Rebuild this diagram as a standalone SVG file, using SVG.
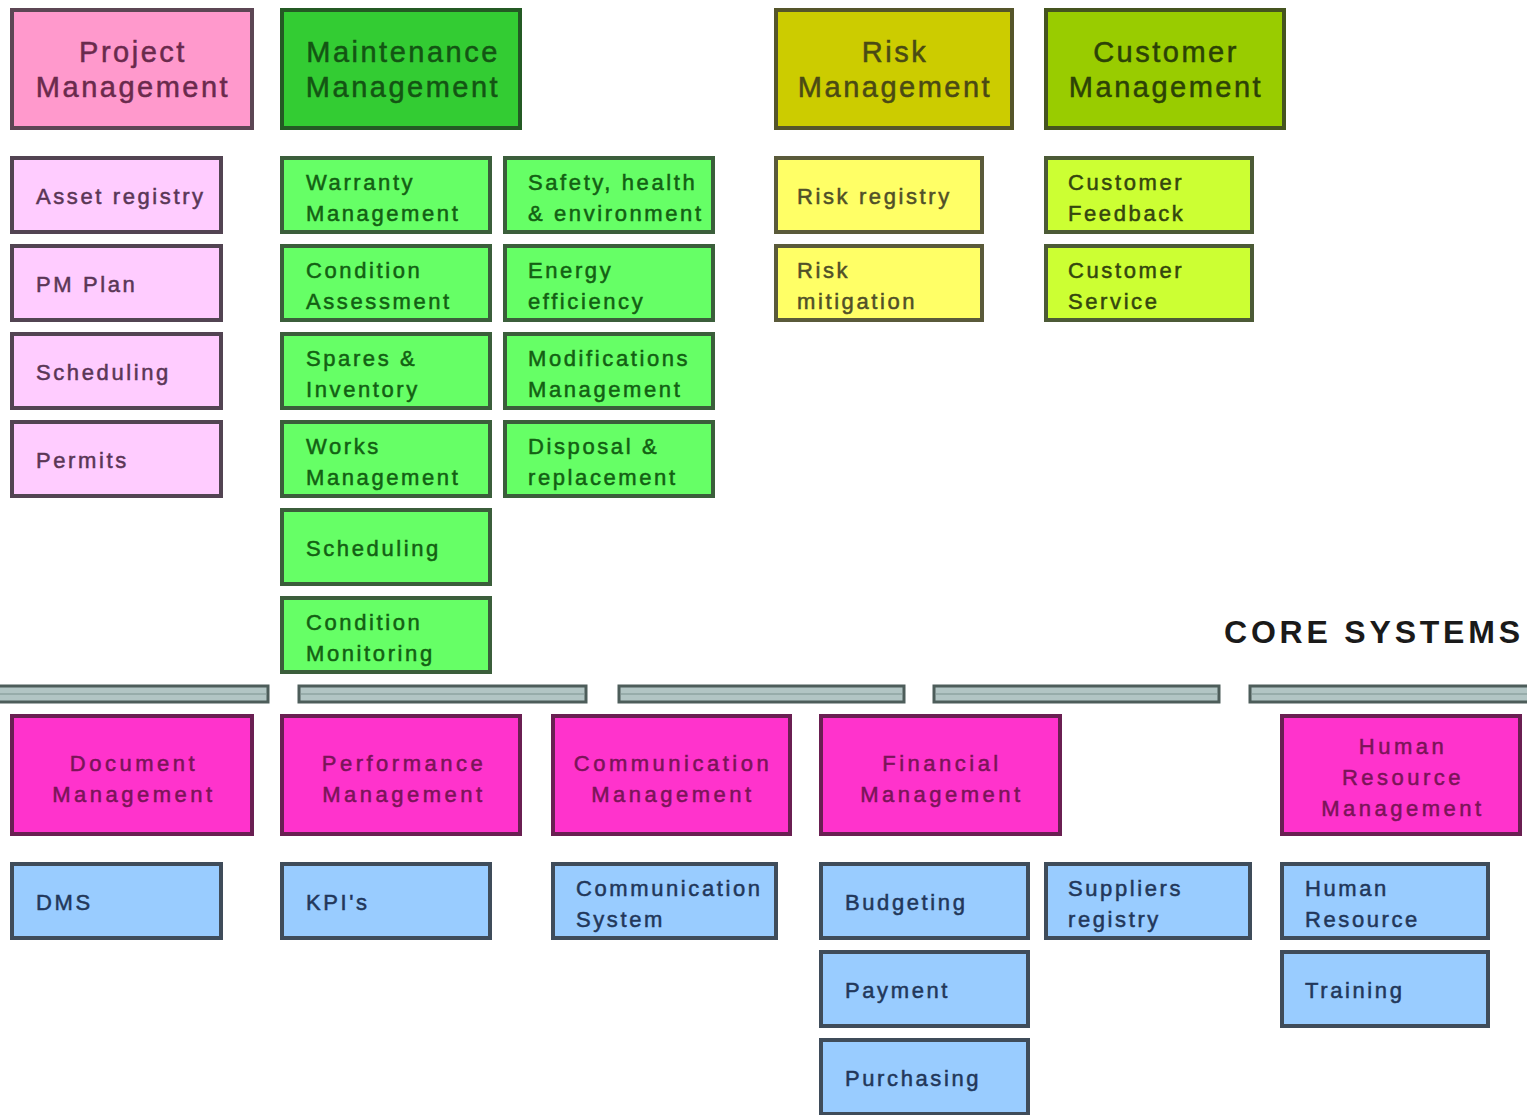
<svg xmlns="http://www.w3.org/2000/svg" width="1527" height="1115" viewBox="0 0 1527 1115">
<style>
text{font-family:"Liberation Sans",Arial,sans-serif;stroke-width:0.5px}
.hd{font-size:29px;letter-spacing:2.5px;text-anchor:middle}
.sb{font-size:22px;letter-spacing:2.6px}
.ch{font-size:22px;letter-spacing:3.5px;text-anchor:middle}
.box{stroke-width:4}
.pmH{fill:#ff99cc;stroke:#5c4654}.pmHt{fill:#6a2a4c;stroke:#6a2a4c}
.pmS{fill:#ffccff;stroke:#524452}.pmSt{fill:#5a3656;stroke:#5a3656}
.mmH{fill:#33cc33;stroke:#245a24}.mmHt{fill:#135513;stroke:#135513}
.mmS{fill:#66ff66;stroke:#3b5e3b}.mmSt{fill:#136013;stroke:#136013}
.rmH{fill:#cccc00;stroke:#55552a}.rmHt{fill:#4a4a14;stroke:#4a4a14}
.rmS{fill:#ffff66;stroke:#5a5a3a}.rmSt{fill:#505028;stroke:#505028}
.cmH{fill:#99cc00;stroke:#45541f}.cmHt{fill:#2c4206;stroke:#2c4206}
.cmS{fill:#ccff33;stroke:#4c5a36}.cmSt{fill:#34460e;stroke:#34460e}
.csH{fill:#ff33cc;stroke:#6a1f52}.csHt{fill:#7a1458;stroke:#7a1458}
.csS{fill:#99ccff;stroke:#3f4c5a}.csSt{fill:#22375a;stroke:#22375a}
.bar{fill:#b2c5c4;stroke:#4d5d5a;stroke-width:3}
.barIn{stroke:#8ea3a2;stroke-width:1.5}
.title{font-size:32px;font-weight:bold;letter-spacing:3.8px;fill:#1a1a1a}
</style>
<rect width="1527" height="1115" fill="#ffffff"/>

<!-- Top headers -->
<g id="project-management"><rect class="box pmH" x="12" y="10" width="240" height="118"/><text class="hd pmHt" x="133" y="62">Project</text><text class="hd pmHt" x="133" y="97">Management</text></g>
<g id="maintenance-management"><rect class="box mmH" x="282" y="10" width="238" height="118"/><text class="hd mmHt" x="403" y="62">Maintenance</text><text class="hd mmHt" x="403" y="97">Management</text></g>
<g id="risk-management"><rect class="box rmH" x="776" y="10" width="236" height="118"/><text class="hd rmHt" x="895" y="62">Risk</text><text class="hd rmHt" x="895" y="97">Management</text></g>
<g id="customer-management"><rect class="box cmH" x="1046" y="10" width="238" height="118"/><text class="hd cmHt" x="1166" y="62">Customer</text><text class="hd cmHt" x="1166" y="97">Management</text></g>

<!-- Project sub -->
<g id="asset-registry"><rect class="box pmS" x="12" y="158" width="209" height="74"/><text class="sb pmSt" x="36" y="204">Asset registry</text></g>
<g id="pm-plan"><rect class="box pmS" x="12" y="246" width="209" height="74"/><text class="sb pmSt" x="36" y="292">PM Plan</text></g>
<g id="scheduling-pm"><rect class="box pmS" x="12" y="334" width="209" height="74"/><text class="sb pmSt" x="36" y="380">Scheduling</text></g>
<g id="permits"><rect class="box pmS" x="12" y="422" width="209" height="74"/><text class="sb pmSt" x="36" y="468">Permits</text></g>

<!-- Maintenance sub col 1 -->
<g id="warranty-management"><rect class="box mmS" x="282" y="158" width="208" height="74"/><text class="sb mmSt" x="306" y="190">Warranty</text><text class="sb mmSt" x="306" y="221">Management</text></g>
<g id="condition-assessment"><rect class="box mmS" x="282" y="246" width="208" height="74"/><text class="sb mmSt" x="306" y="278">Condition</text><text class="sb mmSt" x="306" y="309">Assessment</text></g>
<g id="spares-inventory"><rect class="box mmS" x="282" y="334" width="208" height="74"/><text class="sb mmSt" x="306" y="366">Spares &amp;</text><text class="sb mmSt" x="306" y="397">Inventory</text></g>
<g id="works-management"><rect class="box mmS" x="282" y="422" width="208" height="74"/><text class="sb mmSt" x="306" y="454">Works</text><text class="sb mmSt" x="306" y="485">Management</text></g>
<g id="scheduling-mm"><rect class="box mmS" x="282" y="510" width="208" height="74"/><text class="sb mmSt" x="306" y="556">Scheduling</text></g>
<g id="condition-monitoring"><rect class="box mmS" x="282" y="598" width="208" height="74"/><text class="sb mmSt" x="306" y="630">Condition</text><text class="sb mmSt" x="306" y="661">Monitoring</text></g>

<!-- Maintenance sub col 2 -->
<g id="safety-health-environment"><rect class="box mmS" x="505" y="158" width="208" height="74"/><text class="sb mmSt" x="528" y="190">Safety, health</text><text class="sb mmSt" x="528" y="221">&amp; environment</text></g>
<g id="energy-efficiency"><rect class="box mmS" x="505" y="246" width="208" height="74"/><text class="sb mmSt" x="528" y="278">Energy</text><text class="sb mmSt" x="528" y="309">efficiency</text></g>
<g id="modifications-management"><rect class="box mmS" x="505" y="334" width="208" height="74"/><text class="sb mmSt" x="528" y="366">Modifications</text><text class="sb mmSt" x="528" y="397">Management</text></g>
<g id="disposal-replacement"><rect class="box mmS" x="505" y="422" width="208" height="74"/><text class="sb mmSt" x="528" y="454">Disposal &amp;</text><text class="sb mmSt" x="528" y="485">replacement</text></g>

<!-- Risk sub -->
<g id="risk-registry"><rect class="box rmS" x="776" y="158" width="206" height="74"/><text class="sb rmSt" x="797" y="204">Risk registry</text></g>
<g id="risk-mitigation"><rect class="box rmS" x="776" y="246" width="206" height="74"/><text class="sb rmSt" x="797" y="278">Risk</text><text class="sb rmSt" x="797" y="309">mitigation</text></g>

<!-- Customer sub -->
<g id="customer-feedback"><rect class="box cmS" x="1046" y="158" width="206" height="74"/><text class="sb cmSt" x="1068" y="190">Customer</text><text class="sb cmSt" x="1068" y="221">Feedback</text></g>
<g id="customer-service"><rect class="box cmS" x="1046" y="246" width="206" height="74"/><text class="sb cmSt" x="1068" y="278">Customer</text><text class="sb cmSt" x="1068" y="309">Service</text></g>

<!-- Core systems title -->
<text class="title" x="1224" y="643">CORE SYSTEMS</text>

<!-- Bars -->
<g id="connectors">
<rect class="bar" x="-4" y="686" width="272" height="16"/><line class="barIn" x1="0" y1="694" x2="266" y2="694"/>
<rect class="bar" x="299" y="686" width="287" height="16"/><line class="barIn" x1="301" y1="694" x2="584" y2="694"/>
<rect class="bar" x="619" y="686" width="285" height="16"/><line class="barIn" x1="621" y1="694" x2="902" y2="694"/>
<rect class="bar" x="934" y="686" width="285" height="16"/><line class="barIn" x1="936" y1="694" x2="1217" y2="694"/>
<rect class="bar" x="1250" y="686" width="282" height="16"/><line class="barIn" x1="1252" y1="694" x2="1527" y2="694"/>
</g>

<!-- Core headers -->
<g id="document-management"><rect class="box csH" x="12" y="716" width="240" height="118"/><text class="ch csHt" x="134" y="771">Document</text><text class="ch csHt" x="134" y="802">Management</text></g>
<g id="performance-management"><rect class="box csH" x="282" y="716" width="238" height="118"/><text class="ch csHt" x="404" y="771">Performance</text><text class="ch csHt" x="404" y="802">Management</text></g>
<g id="communication-management"><rect class="box csH" x="553" y="716" width="237" height="118"/><text class="ch csHt" x="673" y="771">Communication</text><text class="ch csHt" x="673" y="802">Management</text></g>
<g id="financial-management"><rect class="box csH" x="821" y="716" width="239" height="118"/><text class="ch csHt" x="942" y="771">Financial</text><text class="ch csHt" x="942" y="802">Management</text></g>
<g id="human-resource-management"><rect class="box csH" x="1282" y="716" width="238" height="118"/><text class="ch csHt" x="1403" y="754">Human</text><text class="ch csHt" x="1403" y="785">Resource</text><text class="ch csHt" x="1403" y="816">Management</text></g>

<!-- Core sub -->
<g id="dms"><rect class="box csS" x="12" y="864" width="209" height="74"/><text class="sb csSt" x="36" y="910">DMS</text></g>
<g id="kpis"><rect class="box csS" x="282" y="864" width="208" height="74"/><text class="sb csSt" x="306" y="910">KPI's</text></g>
<g id="communication-system"><rect class="box csS" x="553" y="864" width="223" height="74"/><text class="sb csSt" x="576" y="896">Communication</text><text class="sb csSt" x="576" y="927">System</text></g>
<g id="budgeting"><rect class="box csS" x="821" y="864" width="207" height="74"/><text class="sb csSt" x="845" y="910">Budgeting</text></g>
<g id="payment"><rect class="box csS" x="821" y="952" width="207" height="74"/><text class="sb csSt" x="845" y="998">Payment</text></g>
<g id="purchasing"><rect class="box csS" x="821" y="1040" width="207" height="74"/><text class="sb csSt" x="845" y="1086">Purchasing</text></g>
<g id="suppliers-registry"><rect class="box csS" x="1046" y="864" width="204" height="74"/><text class="sb csSt" x="1068" y="896">Suppliers</text><text class="sb csSt" x="1068" y="927">registry</text></g>
<g id="human-resource"><rect class="box csS" x="1282" y="864" width="206" height="74"/><text class="sb csSt" x="1305" y="896">Human</text><text class="sb csSt" x="1305" y="927">Resource</text></g>
<g id="training"><rect class="box csS" x="1282" y="952" width="206" height="74"/><text class="sb csSt" x="1305" y="998">Training</text></g>
</svg>
